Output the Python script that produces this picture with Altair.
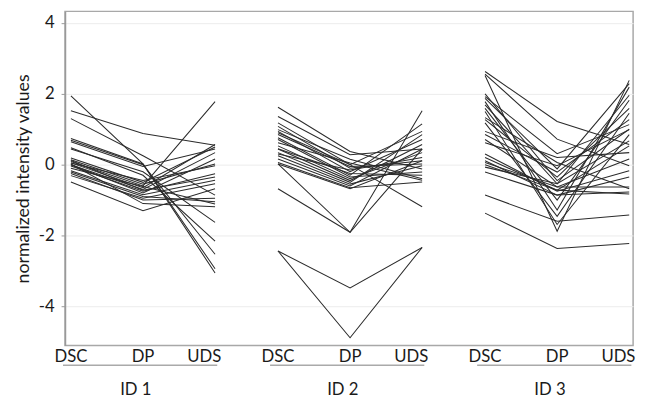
import altair as alt
import pandas as pd

stages = ["DSC", "DP", "UDS"]
groups = ["ID 1", "ID 2", "ID 3"]

id1_dsc = [1.94, 1.52, 1.30, 0.74, 0.69, 0.65, 0.48, 0.44, 0.19, 0.14, 0.09, 0.05, 0.00, -0.04, 0.00, -0.17, -0.21, -0.31, -0.49, 0.02, -0.25, 0.12, -0.10, 0.05]
id1_dp  = [0.02, 0.88, 0.25, 0.02, 0.00, -0.05, -0.30, -0.20, -0.50, -0.55, -0.60, -0.65, -0.70, -0.75, -0.80, -0.85, -0.90, -0.95, -1.30, -1.10, -1.00, -0.72, -0.62, -0.45]
id1_uds = [-3.06, 0.55, -0.86, -2.94, -2.53, 0.44, -2.16, -1.63, 0.50, 0.02, 1.78, 0.57, 0.34, -0.26, 0.16, -0.44, -1.05, -0.54, -0.68, -1.19, -0.95, -0.35, -1.11, -0.03]

id2_dsc = [1.62, 1.36, 1.18, 1.08, 0.99, 0.94, 0.85, 0.76, 0.71, 0.62, 0.53, 0.44, 0.34, 0.25, 0.16, 0.06, 0.02, 0.02, -0.68, 0.90, -2.44, -2.44, 0.30, 0.45]
id2_dp  = [0.37, 0.28, 0.00, -0.10, 0.15, -0.20, -0.05, -0.30, -0.35, 0.05, -0.40, -0.45, -0.50, -0.55, -0.60, -0.65, -0.68, -1.91, -1.91, 0.00, -3.48, -4.89, -0.15, -0.25]
id2_uds = [-0.12, 0.44, 0.94, 0.11, -0.40, 0.71, 0.02, 1.15, -0.21, -0.44, 0.34, 0.57, 0.85, -0.03, 0.44, -0.49, 0.11, 1.52, 0.44, -1.19, -2.34, -2.34, 0.20, -0.30]

id3_dsc = [2.63, 2.56, 2.52, 1.92, 1.87, 1.78, 1.69, 1.59, 1.33, 1.27, 1.18, 0.94, 0.85, 0.71, 0.62, 0.20, 0.11, 0.06, 0.00, -0.07, -0.21, -0.86, -1.37, 1.50, 0.30, 2.00]
id3_dp  = [1.22, 0.72, -1.88, 0.31, -0.12, -1.28, -0.54, -1.00, 0.06, -0.35, -1.46, 0.20, -0.21, -0.63, -0.03, -0.72, -0.86, -0.63, -0.72, -0.54, -0.86, -1.60, -2.37, -1.69, -0.75, -0.45]
id3_uds = [0.57, -0.03, 2.38, 1.13, 2.29, 2.19, 1.96, 1.82, -0.68, 1.59, 1.45, 0.34, 1.27, -0.63, 0.99, 0.53, -0.77, 0.16, -0.83, 0.67, -0.35, -1.42, -2.23, 0.85, -0.17, 1.00]

series = [(id1_dsc, id1_dp, id1_uds), (id2_dsc, id2_dp, id2_uds), (id3_dsc, id3_dp, id3_uds)]

GAP = 0.873
PERIOD = 2 + GAP
FONT = "Lato"
TEXT = "#1a1a1a"

rows = []
for gi, (g, cols) in enumerate(zip(groups, series)):
    for li, vals in enumerate(zip(*cols)):
        for si, (s, v) in enumerate(zip(stages, vals)):
            rows.append(dict(gene=f"{g}-{li}", group=g, stage=s, value=v, x=gi * PERIOD + si))
df = pd.DataFrame(rows)

grp = pd.DataFrame({
    "group": groups,
    "start": [gi * PERIOD - 0.11 for gi in range(3)],
    "end": [gi * PERIOD + 2.03 for gi in range(3)],
    "mid": [gi * PERIOD + 0.9 for gi in range(3)],
})

ticks = pd.DataFrame({
    "stage": [s for _ in groups for s in stages],
    "x": [gi * PERIOD + si for gi in range(3) for si in range(3)],
})

xscale = alt.Scale(domain=[-0.082, 7.80], nice=False, zero=False)
yscale = alt.Scale(domain=[-5.11, 4.33], nice=False, zero=False)

lines = alt.Chart(df).mark_line(color="#2b2b2b", strokeWidth=1.05).encode(
    x=alt.X("x:Q", scale=xscale,
            axis=alt.Axis(values=list(ticks["x"]), labels=False, title=None,
                          grid=True, gridColor="#ececec", domainColor="#999999",
                          tickColor="#999999", tickSize=3)),
    y=alt.Y("value:Q", scale=yscale,
            axis=alt.Axis(values=[-4, -2, 0, 2, 4], labelExpr="'' + datum.value",
                          title="normalized intensity values",
                          grid=True, gridColor="#ececec", domainColor="#999999",
                          domainWidth=1.5, tickColor="#999999", tickSize=4,
                          labelPadding=7, labelFontSize=17, labelFont=FONT,
                          labelColor=TEXT, titleFont=FONT, titleFontSize=18,
                          titleFontWeight="normal", titleColor=TEXT, titlePadding=6)),
    detail="gene:N",
)

base_ticks = alt.Chart(ticks)
tick_labels_a = base_ticks.transform_filter(f"datum.stage != '{stages[2]}'").mark_text(
    font=FONT, fontSize=17, color=TEXT, baseline="middle").encode(
    x=alt.X("x:Q", scale=xscale, axis=None),
    y=alt.value(352),
    text="stage:N",
)
tick_labels_b = base_ticks.transform_filter(f"datum.stage == '{stages[2]}'").mark_text(
    font=FONT, fontSize=17, color=TEXT, baseline="middle", dx=-11).encode(
    x=alt.X("x:Q", scale=xscale, axis=None),
    y=alt.value(352),
    text="stage:N",
)

rules = alt.Chart(grp).mark_rule(color="#aaaaaa", strokeWidth=1.5).encode(
    x=alt.X("start:Q", scale=xscale, axis=None),
    x2="end:Q",
    y=alt.value(360),
)

labels = alt.Chart(grp).mark_text(font=FONT, fontSize=17, color=TEXT, baseline="middle").encode(
    x=alt.X("mid:Q", scale=xscale, axis=None),
    y=alt.value(385),
    text="group:N",
)

chart = alt.layer(lines, tick_labels_a, tick_labels_b, rules, labels).properties(
    width=578, height=340,
    autosize=alt.AutoSizeParams(type="none"),
    padding={"left": 58, "top": 0, "right": 6, "bottom": 53},
).configure_view(stroke="#a8a8a8", strokeWidth=1.5)

chart.save("out.html", embed_options={"renderer": "svg", "actions": False})
